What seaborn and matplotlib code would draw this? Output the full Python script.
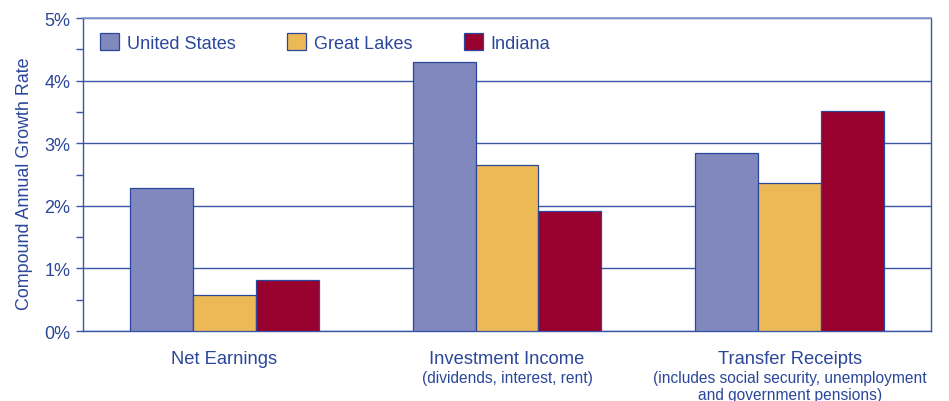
import matplotlib
matplotlib.use("Agg")
import matplotlib.pyplot as plt
import matplotlib.ticker as mticker
import matplotlib.transforms as mtransforms
import seaborn as sns
import pandas as pd

# Daten
categories = ["Net Earnings", "Investment Income", "Transfer Receipts"]
subtitles = ["", "(dividends, interest, rent)",
             "(includes social security, unemployment\nand government pensions)"]
regions = ["United States", "Great Lakes", "Indiana"]
us_values = [2.28, 4.30, 2.84]
gl_values = [0.58, 2.65, 2.36]
in_values = [0.82, 1.92, 3.51]

COLORS = {"United States": "#8088be", "Great Lakes": "#ecb956", "Indiana": "#98002e"}
TEXT = "#2b479b"
GRID = "#3a55a4"

sns.set_theme(style="white")
plt.rcParams["font.family"] = ["Liberation Sans", "DejaVu Sans"]

rows = []
for reg, vals in zip(regions, [us_values, gl_values, in_values]):
    for cat, v in zip(categories, vals):
        rows.append({"Kategorie": cat, "Region": reg, "Wert": v})
df = pd.DataFrame(rows)

fig = plt.figure(figsize=(9.49, 4.02), dpi=100)
ax = fig.add_axes([0.0875, 0.174, 0.8935, 0.7787])

sns.barplot(data=df, x="Kategorie", y="Wert", hue="Region", order=categories,
            hue_order=regions, palette=COLORS, saturation=1, width=0.667,
            edgecolor=TEXT, linewidth=0.9, ax=ax, zorder=3)

ax.set_xlim(-0.5, 2.5)
ax.set_ylim(0, 5)
ax.yaxis.set_major_locator(mticker.MultipleLocator(1))
ax.yaxis.set_minor_locator(mticker.MultipleLocator(0.5))
ax.yaxis.set_major_formatter(mticker.FuncFormatter(lambda x, _: f"{x:.0f}%"))
ax.grid(axis="y", which="major", color=GRID, linewidth=1.0, zorder=0)
ax.tick_params(axis="y", which="both", direction="out", length=5, width=1,
               color=GRID, labelsize=13, labelcolor=TEXT, pad=4, left=True)
ax.tick_params(axis="x", length=0, labelsize=13.2, labelcolor=TEXT, pad=14)

for side in ["left", "right", "bottom"]:
    ax.spines[side].set_color(GRID)
    ax.spines[side].set_linewidth(1.0)
ax.spines["top"].set_color("#8799cc")
ax.spines["top"].set_linewidth(1.2)

ax.set_xlabel("")
ax.set_ylabel("Compound Annual Growth Rate", fontsize=12.9, color=TEXT)
ax.yaxis.set_label_coords(-0.059, 0.475)

trans = mtransforms.blended_transform_factory(ax.transData, ax.transAxes)
for i, sub in enumerate(subtitles):
    if sub:
        ax.text(i, -0.125, sub, transform=trans, ha="center", va="top",
                fontsize=11.2, color=TEXT, linespacing=1.12)

handles, labels = ax.get_legend_handles_labels()
leg = ax.legend(handles, labels, ncol=3, loc="upper left", bbox_to_anchor=(0.002, 1.0),
                frameon=False, fontsize=13.1, handlelength=1.05, handleheight=1.0,
                handletextpad=0.4, columnspacing=2.85, borderaxespad=0.45)
for t in leg.get_texts():
    t.set_color(TEXT)

fig.savefig("out.png", dpi=100)
plt.close(fig)
